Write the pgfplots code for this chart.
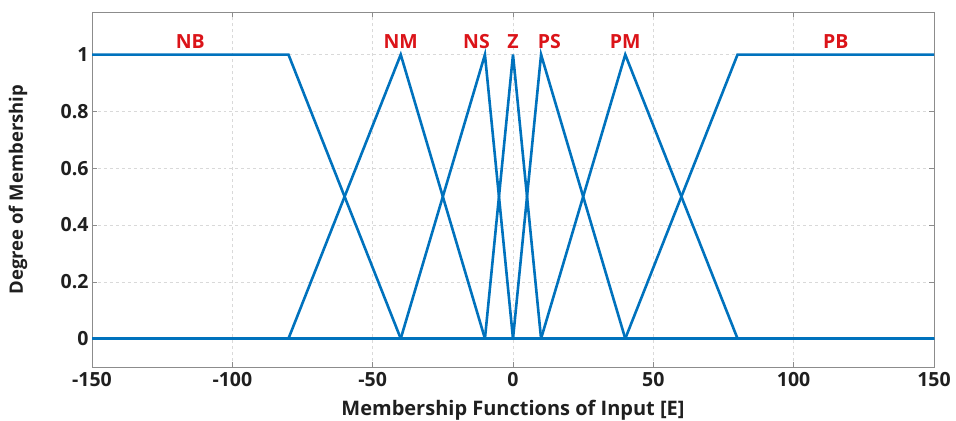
\documentclass[border=0pt]{standalone}
\usepackage{pgfplots}
\pgfplotsset{compat=1.18}
\usepackage{fontspec}
\setmainfont{Open Sans}
\definecolor{mfblue}{rgb}{0,0.447,0.741}
\definecolor{mfred}{rgb}{0.86,0.08,0.10}
\definecolor{boxgray}{rgb}{0.55,0.55,0.55}
\definecolor{gridgray}{rgb}{0.85,0.85,0.85}
\tikzset{mf/.style={mfblue, line width=2.6bp, line join=miter, mark=none}}
\begin{document}
\begin{tikzpicture}
\useasboundingbox (0,0) rectangle (956bp,421bp);
\begin{axis}[
  at={(92bp,54bp)}, anchor=south west,
  scale only axis, width=842bp, height=355bp,
  xmin=-150, xmax=150, ymin=-0.1, ymax=1.15,
  xtick={-150,-100,...,150},
  ytick={0,0.2,0.4,0.6,0.8,1},
  yticklabels={0,0.2,0.4,0.6,0.8,1},
  xticklabels={-150,-100,-50,0,50,100,150},
  axis line style={boxgray, line width=0.8pt},
  tick style={boxgray, line width=0.6pt},
  major tick length=5bp,
  tick align=inside,
  grid=major,
  major grid style={gridgray, dashed, line width=0.6pt},
  tick label style={font=\fontsize{19.5bp}{21bp}\selectfont\bfseries, text=black!88},
  xticklabel style={yshift=-2bp},
  xlabel={Membership Functions of Input [E]},
  ylabel={Degree of Membership},
  xlabel style={font=\fontsize{20bp}{22bp}\selectfont\bfseries, text=black!88,
    at={(axis description cs:0.5,0)}, anchor=center, yshift=-43bp},
  ylabel style={font=\fontsize{18.5bp}{20bp}\selectfont\bfseries, text=black!88,
    at={(axis description cs:0,0.5)}, anchor=center, yshift=74bp},
  clip=false,
]
% NB
\addplot[mf] coordinates {(-150,1) (-80,1) (-40,0) (150,0)};
% NM
\addplot[mf] coordinates {(-150,0) (-80,0) (-40,1) (-10,0) (150,0)};
% NS
\addplot[mf] coordinates {(-150,0) (-40,0) (-10,1) (0,0) (150,0)};
% Z
\addplot[mf] coordinates {(-150,0) (-10,0) (0,1) (10,0) (150,0)};
% PS
\addplot[mf] coordinates {(-150,0) (0,0) (10,1) (40,0) (150,0)};
% PM
\addplot[mf] coordinates {(-150,0) (10,0) (40,1) (80,0) (150,0)};
% PB
\addplot[mf] coordinates {(-150,0) (40,0) (80,1) (150,1)};
\begin{scope}[every node/.style={text=mfred, font=\fontsize{19.5bp}{21bp}\selectfont\bfseries}]
\node at (axis cs:-115,1.045) {NB};
\node at (axis cs:-40,1.045) {NM};
\node at (axis cs:-13,1.045) {NS};
\node at (axis cs:0,1.045) {Z};
\node at (axis cs:13,1.045) {PS};
\node at (axis cs:40,1.045) {PM};
\node at (axis cs:115,1.045) {PB};
\end{scope}
\end{axis}
\end{tikzpicture}
\end{document}
